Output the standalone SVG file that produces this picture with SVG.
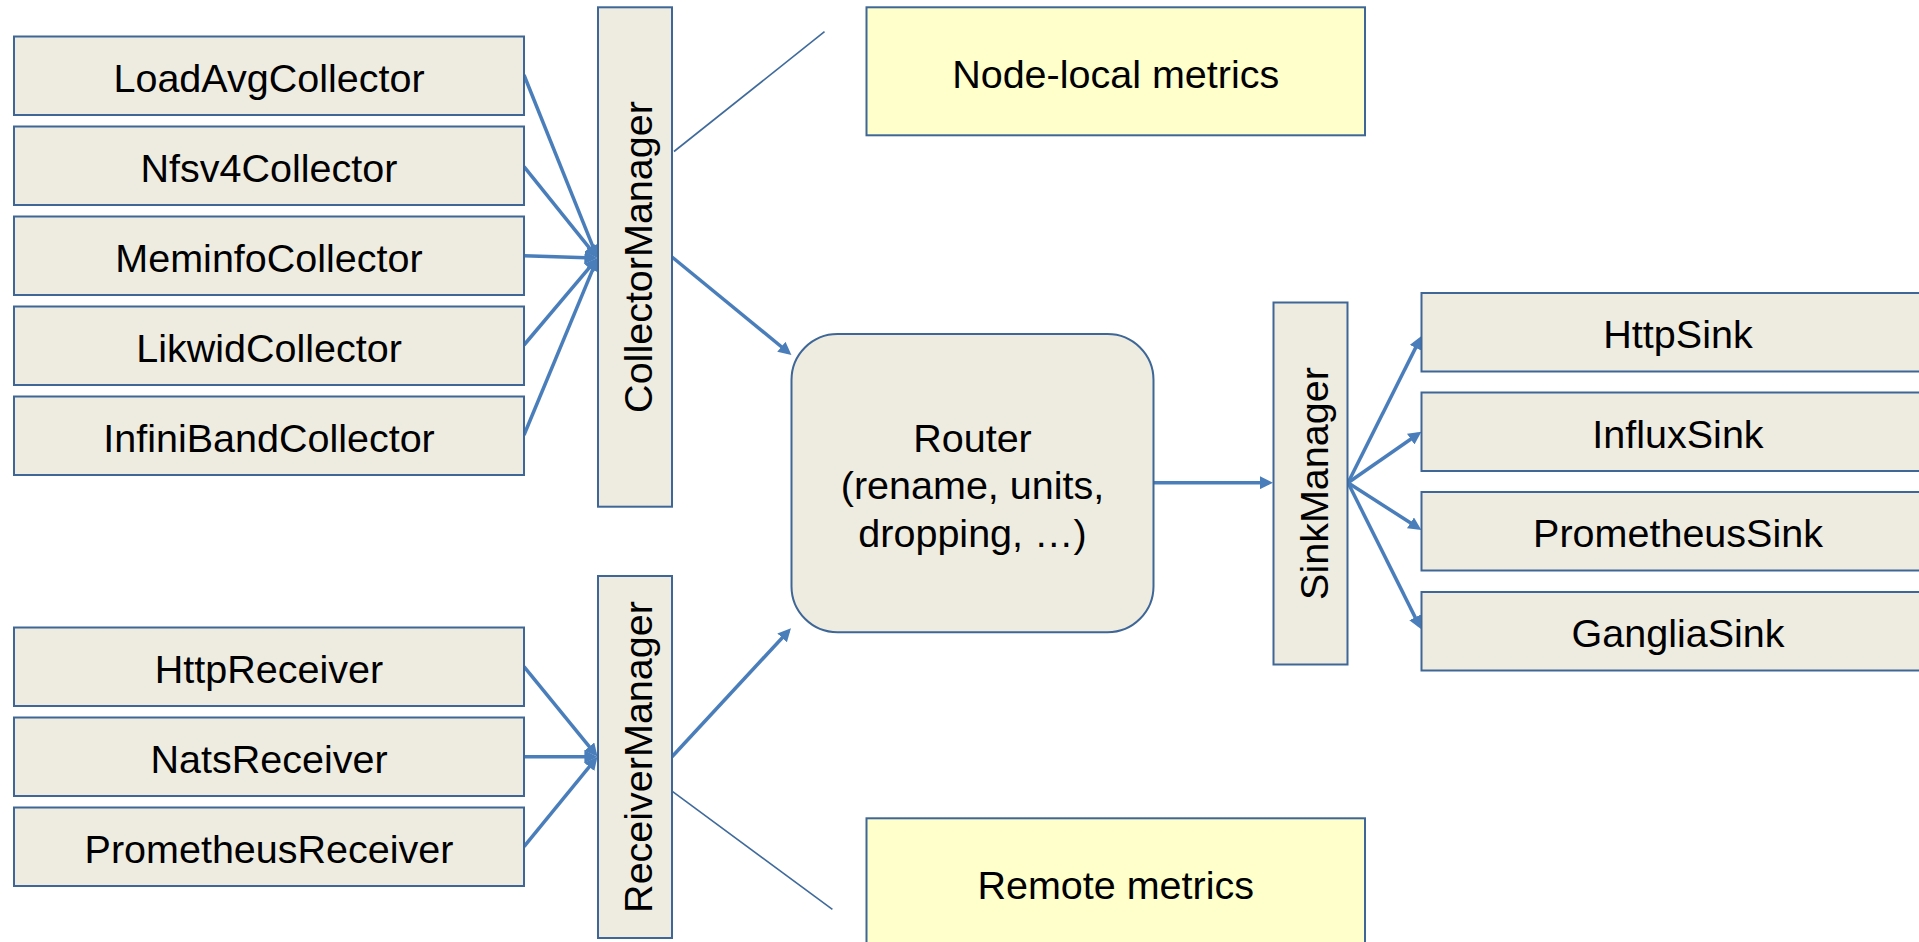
<svg xmlns="http://www.w3.org/2000/svg" width="1919" height="942" viewBox="0 0 1919 942">
  <style>
    .box { fill: #EEECE1; stroke: #3E6696; stroke-width: 2; }
    .note { fill: #FFFFCC; stroke: #3E6696; stroke-width: 2; }
    .lbl { font-family: "Liberation Sans", Arial, sans-serif; font-size: 39.5px; fill: #000; text-anchor: middle; }
    .flow { stroke: #4A7EBB; stroke-width: 3.5; fill: none; marker-end: url(#head); }
    .hint { stroke: #3F6A9B; stroke-width: 1.6; fill: none; }
  </style>
  <defs>
    <marker id="head" markerUnits="userSpaceOnUse" markerWidth="13" markerHeight="13" viewBox="0 0 10 10" refX="7" refY="5" orient="auto">
      <path d="M0,0 L10,5 L0,10 z" fill="#4A7EBB"/>
    </marker>
  </defs>
  <rect width="1919" height="942" fill="#FFFFFF"/>

  <!-- connectors -->
  <g id="connectors">
    <line class="flow" x1="524" y1="75" x2="596" y2="254.3"/>
    <line class="flow" x1="524" y1="166.7" x2="595" y2="254.9"/>
    <line class="flow" x1="524" y1="255.7" x2="593.5" y2="257.9"/>
    <line class="flow" x1="524" y1="345" x2="594.9" y2="261.1"/>
    <line class="flow" x1="524" y1="435" x2="596" y2="261.7"/>

    <line class="flow" x1="524" y1="666.7" x2="595" y2="753.6"/>
    <line class="flow" x1="524" y1="756.7" x2="593.5" y2="756.7"/>
    <line class="flow" x1="524" y1="846.7" x2="595" y2="759.8"/>

    <line class="flow" x1="672" y1="257" x2="788.4" y2="352.5"/>
    <line class="flow" x1="672" y1="756.7" x2="788.3" y2="631.2"/>
    <line class="flow" x1="1153.5" y1="482.7" x2="1269" y2="482.7"/>

    <line class="flow" x1="1348" y1="482.7" x2="1419.7" y2="339.6"/>
    <line class="flow" x1="1348" y1="482.7" x2="1418.2" y2="434"/>
    <line class="flow" x1="1348" y1="482.7" x2="1418.1" y2="527.8"/>
    <line class="flow" x1="1348" y1="482.7" x2="1419.2" y2="625.4"/>

    <line class="hint" x1="674" y1="151.5" x2="824.5" y2="31.7"/>
    <line class="hint" x1="672.7" y1="791.7" x2="832.4" y2="909.3"/>
  </g>

  <!-- collectors -->
  <g id="loadavg-collector">
    <rect class="box" x="14" y="36.5" width="510" height="78.5"/>
    <text class="lbl" x="269" y="91.5">LoadAvgCollector</text>
  </g>
  <g id="nfsv4-collector">
    <rect class="box" x="14" y="126.5" width="510" height="78.5"/>
    <text class="lbl" x="269" y="181.5">Nfsv4Collector</text>
  </g>
  <g id="meminfo-collector">
    <rect class="box" x="14" y="216.5" width="510" height="78.5"/>
    <text class="lbl" x="269" y="271.5">MeminfoCollector</text>
  </g>
  <g id="likwid-collector">
    <rect class="box" x="14" y="306.5" width="510" height="78.5"/>
    <text class="lbl" x="269" y="361.5">LikwidCollector</text>
  </g>
  <g id="infiniband-collector">
    <rect class="box" x="14" y="396.5" width="510" height="78.5"/>
    <text class="lbl" x="269" y="451.5">InfiniBandCollector</text>
  </g>

  <!-- receivers -->
  <g id="http-receiver">
    <rect class="box" x="14" y="627.5" width="510" height="78.5"/>
    <text class="lbl" x="269" y="682.5">HttpReceiver</text>
  </g>
  <g id="nats-receiver">
    <rect class="box" x="14" y="717.5" width="510" height="78.5"/>
    <text class="lbl" x="269" y="772.5">NatsReceiver</text>
  </g>
  <g id="prometheus-receiver">
    <rect class="box" x="14" y="807.5" width="510" height="78.5"/>
    <text class="lbl" x="269" y="862.5">PrometheusReceiver</text>
  </g>

  <!-- managers -->
  <g id="collector-manager">
    <rect class="box" x="598" y="7.3" width="74" height="499.4"/>
    <text class="lbl" transform="translate(652,257) rotate(-90)">CollectorManager</text>
  </g>
  <g id="receiver-manager">
    <rect class="box" x="598" y="576" width="74" height="362"/>
    <text class="lbl" transform="translate(652,757) rotate(-90)">ReceiverManager</text>
  </g>
  <g id="sink-manager">
    <rect class="box" x="1273.5" y="302.5" width="74" height="362"/>
    <text class="lbl" transform="translate(1327.5,483.5) rotate(-90)">SinkManager</text>
  </g>

  <!-- router -->
  <g id="router">
    <rect class="box" x="791.5" y="334" width="362" height="298.3" rx="46" ry="46"/>
    <text class="lbl" x="972.5" y="451.5">Router</text>
    <text class="lbl" x="972.5" y="499">(rename, units,</text>
    <text class="lbl" x="972.5" y="547">dropping, …)</text>
  </g>

  <!-- annotations -->
  <g id="node-local-metrics">
    <rect class="note" x="866.5" y="7.3" width="498.5" height="128"/>
    <text class="lbl" x="1115.7" y="88">Node-local metrics</text>
  </g>
  <g id="remote-metrics">
    <rect class="note" x="866.5" y="818.3" width="498.5" height="128"/>
    <text class="lbl" x="1115.7" y="898.5">Remote metrics</text>
  </g>

  <!-- sinks -->
  <g id="http-sink">
    <rect class="box" x="1421.5" y="293" width="513" height="78.5"/>
    <text class="lbl" x="1678" y="348">HttpSink</text>
  </g>
  <g id="influx-sink">
    <rect class="box" x="1421.5" y="392.5" width="513" height="78.5"/>
    <text class="lbl" x="1678" y="447.5">InfluxSink</text>
  </g>
  <g id="prometheus-sink">
    <rect class="box" x="1421.5" y="492" width="513" height="78.5"/>
    <text class="lbl" x="1678" y="547">PrometheusSink</text>
  </g>
  <g id="ganglia-sink">
    <rect class="box" x="1421.5" y="592" width="513" height="78.5"/>
    <text class="lbl" x="1678" y="647">GangliaSink</text>
  </g>
</svg>
